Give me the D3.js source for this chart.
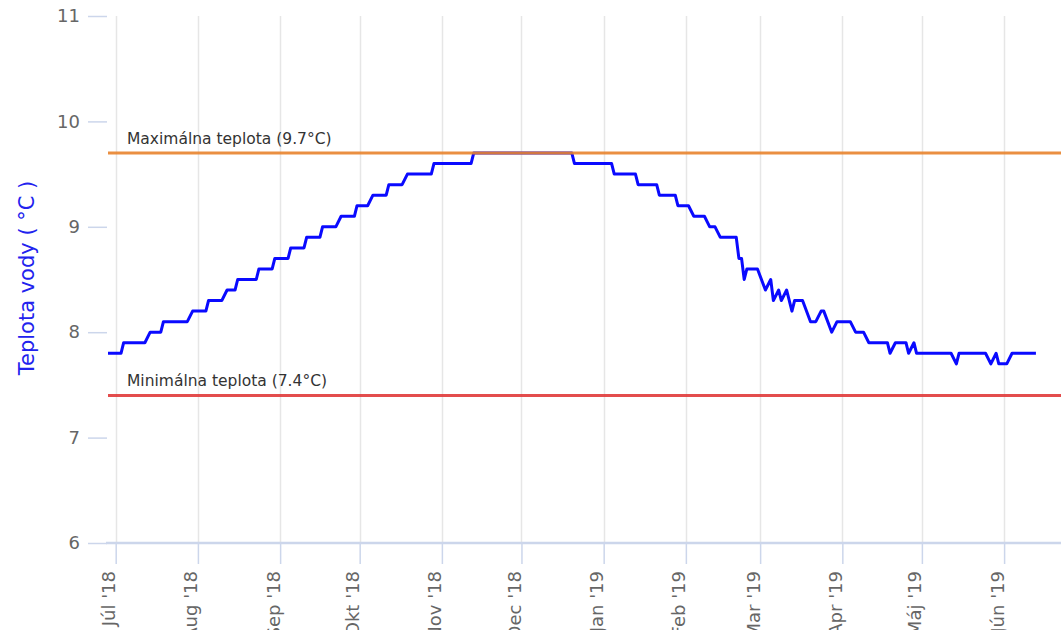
<!DOCTYPE html>
<html>
<head>
<meta charset="utf-8">
<script src="https://cdn.jsdelivr.net/npm/d3@7"></script>
<style>
  html, body { margin: 0; padding: 0; background: #fff; overflow: hidden; }
  svg { display: block; font-family: "DejaVu Sans", Verdana, sans-serif; }
</style>
</head>
<body>
<svg id="chart" width="1061" height="630"></svg>
<script>
// Water temperature readings, one point per corner of the step line
const readingDates = [
  "2018-06-28", "2018-07-03", "2018-07-04", "2018-07-12", "2018-07-14", "2018-07-18", "2018-07-19",
  "2018-07-28", "2018-07-30", "2018-08-04", "2018-08-05", "2018-08-10", "2018-08-12", "2018-08-15",
  "2018-08-16", "2018-08-23", "2018-08-24", "2018-08-29", "2018-08-30", "2018-09-04", "2018-09-05",
  "2018-09-10", "2018-09-11", "2018-09-16", "2018-09-17", "2018-09-22", "2018-09-24", "2018-09-29",
  "2018-09-30", "2018-10-04", "2018-10-06", "2018-10-11", "2018-10-12", "2018-10-17", "2018-10-19",
  "2018-10-28", "2018-10-29", "2018-11-12", "2018-11-13", "2018-12-20", "2018-12-21", "2019-01-04",
  "2019-01-05", "2019-01-13", "2019-01-14", "2019-01-21", "2019-01-22", "2019-01-28", "2019-01-29",
  "2019-02-02", "2019-02-04", "2019-02-08", "2019-02-10", "2019-02-12", "2019-02-14", "2019-02-20",
  "2019-02-21", "2019-02-22", "2019-02-23", "2019-02-24", "2019-02-28", "2019-03-03", "2019-03-05",
  "2019-03-06", "2019-03-08", "2019-03-09", "2019-03-11", "2019-03-13", "2019-03-14", "2019-03-17",
  "2019-03-20", "2019-03-22", "2019-03-24", "2019-03-25", "2019-03-28", "2019-03-30", "2019-04-04",
  "2019-04-06", "2019-04-09", "2019-04-11", "2019-04-18", "2019-04-19", "2019-04-21", "2019-04-25",
  "2019-04-26", "2019-04-28", "2019-04-29", "2019-05-12", "2019-05-14", "2019-05-15", "2019-05-25",
  "2019-05-27", "2019-05-29", "2019-05-30", "2019-06-02", "2019-06-04", "2019-06-13"
];

const readingTemps = [
  7.8, 7.8, 7.9, 7.9, 8.0, 8.0, 8.1,
  8.1, 8.2, 8.2, 8.3, 8.3, 8.4, 8.4,
  8.5, 8.5, 8.6, 8.6, 8.7, 8.7, 8.8,
  8.8, 8.9, 8.9, 9.0, 9.0, 9.1, 9.1,
  9.2, 9.2, 9.3, 9.3, 9.4, 9.4, 9.5,
  9.5, 9.6, 9.6, 9.7, 9.7, 9.6, 9.6,
  9.5, 9.5, 9.4, 9.4, 9.3, 9.3, 9.2,
  9.2, 9.1, 9.1, 9.0, 9.0, 8.9, 8.9,
  8.7, 8.7, 8.5, 8.6, 8.6, 8.4, 8.5,
  8.3, 8.4, 8.3, 8.4, 8.2, 8.3, 8.3,
  8.1, 8.1, 8.2, 8.2, 8.0, 8.1, 8.1,
  8.0, 8.0, 7.9, 7.9, 7.8, 7.9, 7.9,
  7.8, 7.9, 7.8, 7.8, 7.7, 7.8, 7.8,
  7.7, 7.8, 7.7, 7.7, 7.8, 7.8
];

// Axis ticks
const monthTicks = [
  "2018-07-01", "2018-08-01", "2018-09-01", "2018-10-01", "2018-11-01", "2018-12-01",
  "2019-01-01", "2019-02-01", "2019-03-01", "2019-04-01", "2019-05-01", "2019-06-01"
];
const monthLabels = [
  "Júl '18", "Aug '18", "Sep '18", "Okt '18", "Nov '18", "Dec '18",
  "Jan '19", "Feb '19", "Mar '19", "Apr '19", "Máj '19", "Jún '19"
];
const tempTicks = [6, 7, 8, 9, 10, 11];

// Limit lines
const limitNames = ["Maximálna teplota (9.7°C)", "Minimálna teplota (7.4°C)"];
const limitValues = [9.7, 7.4];
const limitColors = ["#e8832c", "#e03a3a"];

const yTitle = "Teplota vody ( °C )";

const parseDay = d3.timeParse("%Y-%m-%d");

const svg = d3.select("#chart");

const plotLeft = 108;
const plotRight = 1061;

const x = d3.scaleTime()
  .domain([parseDay(monthTicks[0]), parseDay(monthTicks[monthTicks.length - 1])])
  .range([115.7, 1004.1]);

const y = d3.scaleLinear()
  .domain([6, 11])
  .range([543, 16]);

const points = readingDates.map((d, i) => ({date: parseDay(d), temp: readingTemps[i]}));
const tickDates = monthTicks.map(parseDay);

// Vertical grid lines on month starts
svg.append("g")
  .selectAll("line")
  .data(tickDates)
  .join("line")
  .attr("x1", d => Math.round(x(d)) + 0.5)
  .attr("x2", d => Math.round(x(d)) + 0.5)
  .attr("y1", y(11))
  .attr("y2", y(6))
  .attr("stroke", "#e6e6e6")
  .attr("stroke-width", 1.5);

// X axis: line, ticks and rotated labels
const xAxis = svg.append("g")
  .attr("transform", `translate(0,${y(6)})`)
  .call(d3.axisBottom(x)
    .tickValues(tickDates)
    .tickSize(21)
    .tickFormat((d, i) => monthLabels[i]));

xAxis.select(".domain").remove();
xAxis.append("line")
  .attr("x1", plotLeft - 2)
  .attr("x2", plotRight)
  .attr("stroke", "#ccd6eb")
  .attr("stroke-width", 2.5);
xAxis.selectAll(".tick line")
  .attr("stroke", "#ccd6eb")
  .attr("stroke-width", 1.5);
xAxis.selectAll(".tick text")
  .attr("fill", "#666666")
  .attr("font-size", 18)
  .attr("font-family", "DejaVu Sans, Verdana, sans-serif")
  .attr("text-anchor", "end")
  .attr("dy", null)
  .attr("y", null)
  .attr("transform", "translate(-1,28) rotate(-90)");

// Y axis: tick marks and labels only
const yAxis = svg.append("g")
  .attr("transform", `translate(${plotLeft - 1},0)`)
  .call(d3.axisLeft(y)
    .tickValues(tempTicks)
    .tickSize(19)
    .tickPadding(8)
    .tickFormat(d3.format("d")));

yAxis.select(".domain").remove();
yAxis.selectAll(".tick line")
  .attr("stroke", "#ccd6eb")
  .attr("stroke-width", 1.5);
yAxis.selectAll(".tick text")
  .attr("fill", "#666666")
  .attr("font-size", 18)
  .attr("font-family", "DejaVu Sans, Verdana, sans-serif");

svg.append("text")
  .attr("transform", `translate(34,278) rotate(-90)`)
  .attr("text-anchor", "middle")
  .attr("fill", "#2222ee")
  .attr("font-size", 21)
  .text(yTitle);

// Temperature series
svg.append("clipPath")
  .attr("id", "plot-clip")
  .append("rect")
  .attr("x", plotLeft)
  .attr("y", 0)
  .attr("width", plotRight - plotLeft)
  .attr("height", y(6));

const line = d3.line()
  .x(d => x(d.date))
  .y(d => y(d.temp));

svg.append("path")
  .datum(points)
  .attr("clip-path", "url(#plot-clip)")
  .attr("fill", "none")
  .attr("stroke", "#0a0aff")
  .attr("stroke-width", 3)
  .attr("stroke-linejoin", "round")
  .attr("d", line);

// Max / min plot lines with their labels
const limits = svg.append("g")
  .selectAll("g")
  .data(limitValues)
  .join("g")
  .attr("transform", d => `translate(0,${y(d)})`);

limits.append("line")
  .attr("x1", plotLeft)
  .attr("x2", plotRight)
  .attr("stroke", (d, i) => limitColors[i])
  .attr("stroke-width", 3)
  .attr("stroke-opacity", 0.9);

limits.append("text")
  .attr("x", plotLeft + 19)
  .attr("y", -9)
  .attr("fill", "#333333")
  .attr("font-size", 15.5)
  .text((d, i) => limitNames[i]);
</script>
</body>
</html>
